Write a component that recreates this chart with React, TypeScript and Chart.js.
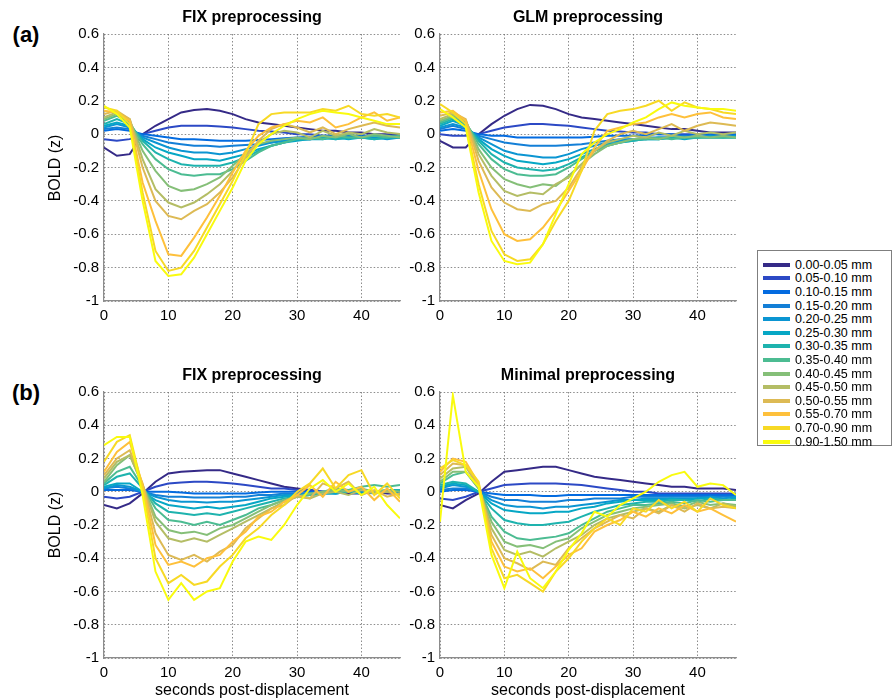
import React, { useEffect, useRef } from "react";
import { Chart, registerables } from "chart.js";
Chart.register(...registerables);

const FONT = '"Liberation Sans", Arial, Helvetica, sans-serif';

const TIME = [0, 2, 4, 6, 8, 10, 12, 14, 16, 18, 20, 22, 24, 26, 28, 30, 32, 34, 36, 38, 40, 42, 44, 46];
const X_TICKS = [0, 10, 20, 30, 40];
const Y_TICKS = [-1, -0.8, -0.6, -0.4, -0.2, 0, 0.2, 0.4, 0.6];

const BINS = [
  "0.00-0.05 mm", "0.05-0.10 mm", "0.10-0.15 mm", "0.15-0.20 mm", "0.20-0.25 mm",
  "0.25-0.30 mm", "0.30-0.35 mm", "0.35-0.40 mm", "0.40-0.45 mm", "0.45-0.50 mm",
  "0.50-0.55 mm", "0.55-0.70 mm", "0.70-0.90 mm", "0.90-1.50 mm",
];

const COLORS = [
  "#352a87", "#2c49c5", "#036be0", "#137fd7", "#0b95d2", "#06a7c5", "#1eb3ae",
  "#4cbc92", "#85bf78", "#b4bd65", "#ddba54", "#fec03b", "#f7d925", "#f9fb0e",
];

// (a) FIX preprocessing
const FIX_A = [
  [-0.08, -0.13, -0.12, 0.00, 0.05, 0.09, 0.13, 0.145, 0.15, 0.14, 0.12, 0.09, 0.07, 0.06, 0.05, 0.04, 0.03, 0.02, 0.02, 0.01, 0.01, 0.00, 0.00, 0.00],
  [-0.03, -0.04, -0.03, 0.00, 0.02, 0.04, 0.05, 0.05, 0.05, 0.045, 0.04, 0.03, 0.02, 0.015, 0.01, 0.00, 0.00, -0.01, -0.01, -0.01, -0.01, -0.01, -0.01, -0.01],
  [0.02, 0.03, 0.02, 0.00, -0.01, -0.02, -0.03, -0.03, -0.035, -0.04, -0.04, -0.04, -0.035, -0.03, -0.025, -0.02, -0.015, -0.01, -0.01, -0.01, -0.01, -0.01, -0.01, -0.01],
  [0.03, 0.04, 0.03, -0.01, -0.03, -0.05, -0.06, -0.07, -0.07, -0.075, -0.07, -0.065, -0.06, -0.05, -0.04, -0.03, -0.03, -0.02, -0.02, -0.02, -0.02, -0.02, -0.02, -0.02],
  [0.04, 0.06, 0.04, -0.02, -0.05, -0.08, -0.10, -0.11, -0.11, -0.12, -0.11, -0.09, -0.07, -0.05, -0.04, -0.03, -0.03, -0.02, -0.03, -0.02, -0.02, -0.02, -0.03, -0.02],
  [0.05, 0.07, 0.05, -0.03, -0.08, -0.11, -0.13, -0.15, -0.15, -0.16, -0.14, -0.12, -0.09, -0.07, -0.05, -0.04, -0.03, -0.03, -0.02, -0.03, -0.02, -0.03, -0.02, -0.02],
  [0.06, 0.09, 0.06, -0.04, -0.11, -0.15, -0.18, -0.19, -0.19, -0.19, -0.17, -0.14, -0.10, -0.07, -0.05, -0.03, -0.03, -0.02, -0.03, -0.02, -0.02, -0.03, -0.02, -0.02],
  [0.08, 0.11, 0.07, -0.06, -0.15, -0.21, -0.24, -0.25, -0.24, -0.24, -0.21, -0.16, -0.11, -0.07, -0.05, -0.03, -0.02, -0.03, -0.01, -0.02, -0.02, -0.01, -0.02, -0.01],
  [0.09, 0.12, 0.08, -0.10, -0.22, -0.31, -0.34, -0.33, -0.30, -0.26, -0.19, -0.12, -0.06, -0.04, -0.03, -0.02, -0.03, -0.01, -0.02, 0.00, -0.02, 0.00, -0.01, -0.02],
  [0.10, 0.13, 0.09, -0.15, -0.33, -0.41, -0.44, -0.41, -0.36, -0.30, -0.22, -0.12, -0.05, 0.00, 0.02, 0.01, -0.02, 0.02, -0.01, 0.01, 0.00, 0.03, 0.01, 0.00],
  [0.12, 0.14, 0.09, -0.20, -0.40, -0.49, -0.51, -0.46, -0.42, -0.35, -0.26, -0.14, -0.04, 0.03, 0.06, 0.04, 0.01, 0.04, 0.00, 0.03, 0.05, 0.07, 0.05, 0.04],
  [0.14, 0.13, 0.08, -0.29, -0.52, -0.72, -0.73, -0.62, -0.50, -0.37, -0.23, -0.10, -0.01, 0.04, 0.06, 0.08, 0.07, 0.10, 0.04, 0.06, 0.10, 0.13, 0.08, 0.10],
  [0.16, 0.14, 0.06, -0.35, -0.70, -0.82, -0.80, -0.70, -0.56, -0.42, -0.28, -0.12, 0.06, 0.12, 0.13, 0.13, 0.13, 0.15, 0.14, 0.17, 0.12, 0.11, 0.12, 0.10],
  [0.17, 0.12, 0.04, -0.40, -0.76, -0.85, -0.84, -0.74, -0.60, -0.46, -0.32, -0.16, -0.06, 0.00, 0.05, 0.09, 0.12, 0.14, 0.13, 0.12, 0.10, 0.08, 0.06, 0.06],
];

// (a) GLM preprocessing
const GLM_A = [
  [-0.04, -0.08, -0.08, 0.00, 0.06, 0.11, 0.15, 0.175, 0.17, 0.15, 0.12, 0.10, 0.09, 0.08, 0.07, 0.06, 0.05, 0.04, 0.03, 0.03, 0.02, 0.01, 0.01, 0.01],
  [0.00, -0.01, -0.01, 0.00, 0.02, 0.04, 0.05, 0.06, 0.06, 0.055, 0.05, 0.04, 0.03, 0.02, 0.015, 0.01, 0.01, 0.00, 0.00, 0.00, 0.00, 0.00, -0.01, -0.01],
  [0.02, 0.03, 0.02, 0.00, -0.01, -0.01, -0.02, -0.02, -0.02, -0.02, -0.02, -0.02, -0.015, -0.01, -0.01, -0.01, -0.005, 0.00, 0.00, -0.01, 0.00, 0.00, 0.00, 0.00],
  [0.03, 0.05, 0.03, -0.01, -0.03, -0.05, -0.06, -0.07, -0.07, -0.07, -0.065, -0.06, -0.05, -0.04, -0.03, -0.03, -0.02, -0.02, -0.02, -0.01, -0.02, -0.01, -0.01, -0.01],
  [0.04, 0.06, 0.04, -0.02, -0.06, -0.10, -0.12, -0.13, -0.14, -0.14, -0.12, -0.09, -0.07, -0.05, -0.04, -0.03, -0.03, -0.02, -0.02, -0.02, -0.02, -0.01, -0.02, -0.01],
  [0.05, 0.08, 0.05, -0.03, -0.09, -0.13, -0.16, -0.17, -0.18, -0.17, -0.15, -0.12, -0.09, -0.06, -0.05, -0.04, -0.03, -0.03, -0.02, -0.03, -0.02, -0.02, -0.02, -0.02],
  [0.06, 0.09, 0.06, -0.04, -0.12, -0.17, -0.20, -0.21, -0.22, -0.21, -0.18, -0.14, -0.10, -0.07, -0.05, -0.04, -0.03, -0.03, -0.02, -0.02, -0.02, -0.02, -0.02, -0.02],
  [0.07, 0.10, 0.07, -0.06, -0.15, -0.21, -0.24, -0.25, -0.25, -0.24, -0.20, -0.15, -0.10, -0.07, -0.05, -0.03, -0.03, -0.02, -0.03, -0.02, -0.02, -0.02, -0.02, -0.02],
  [0.08, 0.11, 0.08, -0.09, -0.20, -0.27, -0.30, -0.32, -0.30, -0.31, -0.25, -0.18, -0.12, -0.07, -0.05, -0.03, -0.02, -0.03, -0.01, -0.02, -0.01, -0.02, -0.01, -0.02],
  [0.09, 0.12, 0.08, -0.12, -0.25, -0.34, -0.37, -0.35, -0.36, -0.30, -0.26, -0.18, -0.10, -0.05, -0.03, -0.01, -0.02, 0.01, -0.01, 0.02, 0.00, 0.01, 0.00, 0.01],
  [0.11, 0.13, 0.09, -0.16, -0.32, -0.41, -0.45, -0.46, -0.42, -0.40, -0.32, -0.20, -0.10, -0.04, 0.00, 0.02, 0.00, 0.03, 0.06, 0.02, 0.05, 0.07, 0.06, 0.05],
  [0.13, 0.14, 0.08, -0.22, -0.45, -0.60, -0.64, -0.63, -0.56, -0.46, -0.34, -0.22, -0.08, 0.02, 0.04, 0.06, 0.07, 0.10, 0.12, 0.10, 0.12, 0.13, 0.10, 0.09],
  [0.18, 0.13, 0.06, -0.30, -0.58, -0.72, -0.76, -0.75, -0.66, -0.52, -0.40, -0.22, 0.02, 0.12, 0.14, 0.15, 0.17, 0.20, 0.14, 0.19, 0.16, 0.15, 0.13, 0.12],
  [0.15, 0.10, 0.04, -0.35, -0.64, -0.76, -0.78, -0.77, -0.66, -0.48, -0.30, -0.12, -0.05, 0.00, 0.03, 0.07, 0.10, 0.15, 0.19, 0.17, 0.16, 0.15, 0.15, 0.14],
];

// (b) FIX preprocessing
const FIX_B = [
  [-0.08, -0.10, -0.07, -0.01, 0.06, 0.11, 0.12, 0.125, 0.13, 0.13, 0.11, 0.09, 0.07, 0.05, 0.03, 0.02, 0.01, 0.00, 0.00, -0.01, -0.01, 0.00, -0.01, -0.01],
  [-0.03, -0.04, -0.03, 0.00, 0.03, 0.05, 0.055, 0.06, 0.06, 0.055, 0.05, 0.04, 0.03, 0.02, 0.02, 0.01, 0.01, 0.00, 0.00, 0.00, 0.00, 0.00, 0.00, 0.00],
  [0.01, 0.01, 0.01, 0.00, 0.00, 0.00, -0.005, -0.01, -0.01, -0.01, -0.01, -0.01, -0.005, 0.00, 0.00, 0.00, 0.00, 0.00, 0.00, 0.00, 0.00, 0.00, 0.00, 0.00],
  [0.02, 0.03, 0.02, 0.00, -0.02, -0.03, -0.03, -0.035, -0.035, -0.035, -0.03, -0.03, -0.02, -0.02, -0.01, -0.01, -0.01, 0.00, -0.01, 0.00, 0.00, -0.01, 0.00, 0.00],
  [0.02, 0.04, 0.03, 0.00, -0.03, -0.05, -0.06, -0.06, -0.065, -0.06, -0.06, -0.05, -0.04, -0.03, -0.02, -0.02, -0.01, -0.01, -0.01, 0.00, -0.01, 0.00, 0.00, 0.00],
  [0.03, 0.05, 0.05, 0.00, -0.05, -0.08, -0.09, -0.10, -0.09, -0.10, -0.09, -0.08, -0.06, -0.04, -0.03, -0.02, -0.02, -0.01, -0.01, 0.00, -0.01, 0.00, 0.00, 0.01],
  [0.04, 0.09, 0.11, 0.02, -0.07, -0.12, -0.13, -0.14, -0.13, -0.14, -0.12, -0.10, -0.08, -0.06, -0.04, -0.03, -0.02, -0.01, 0.00, 0.00, 0.01, 0.00, 0.01, 0.01],
  [0.05, 0.12, 0.15, 0.03, -0.10, -0.17, -0.18, -0.20, -0.18, -0.20, -0.17, -0.14, -0.10, -0.08, -0.05, -0.03, -0.02, 0.00, 0.02, 0.01, 0.03, 0.04, 0.03, 0.04],
  [0.06, 0.16, 0.22, 0.04, -0.15, -0.23, -0.25, -0.24, -0.26, -0.22, -0.20, -0.16, -0.12, -0.08, -0.05, -0.03, -0.01, 0.00, 0.01, 0.00, 0.02, 0.00, 0.01, 0.00],
  [0.08, 0.18, 0.22, 0.04, -0.18, -0.28, -0.30, -0.28, -0.30, -0.26, -0.22, -0.18, -0.14, -0.10, -0.06, -0.03, -0.04, -0.01, 0.00, -0.02, 0.01, -0.01, 0.00, -0.02],
  [0.10, 0.20, 0.25, 0.05, -0.25, -0.38, -0.41, -0.38, -0.42, -0.36, -0.32, -0.22, -0.16, -0.10, -0.08, -0.02, -0.04, 0.05, 0.02, 0.06, -0.02, 0.01, -0.03, -0.01],
  [0.12, 0.24, 0.30, 0.04, -0.32, -0.44, -0.42, -0.45, -0.40, -0.38, -0.30, -0.24, -0.15, -0.12, -0.06, -0.02, 0.04, -0.03, 0.06, 0.00, 0.03, -0.05, 0.02, -0.06],
  [0.18, 0.30, 0.34, 0.02, -0.40, -0.55, -0.50, -0.56, -0.54, -0.45, -0.38, -0.28, -0.22, -0.14, -0.08, 0.00, 0.05, 0.14, 0.02, 0.10, 0.13, -0.02, 0.05, -0.04],
  [0.28, 0.33, 0.33, -0.02, -0.48, -0.65, -0.55, -0.65, -0.60, -0.58, -0.42, -0.30, -0.27, -0.29, -0.20, -0.08, 0.02, 0.07, 0.00, 0.05, -0.02, 0.03, -0.08, -0.16],
];

// (b) Minimal preprocessing
const MIN_B = [
  [-0.08, -0.10, -0.05, -0.01, 0.06, 0.12, 0.13, 0.14, 0.15, 0.15, 0.13, 0.11, 0.09, 0.08, 0.07, 0.06, 0.05, 0.04, 0.03, 0.03, 0.02, 0.02, 0.02, 0.01],
  [-0.04, -0.05, -0.03, 0.00, 0.02, 0.04, 0.045, 0.05, 0.05, 0.05, 0.045, 0.04, 0.03, 0.02, 0.01, 0.00, 0.00, -0.01, -0.01, -0.01, -0.01, -0.01, -0.01, -0.01],
  [0.00, 0.01, 0.01, 0.00, -0.01, -0.02, -0.02, -0.02, -0.025, -0.025, -0.02, -0.02, -0.02, -0.02, -0.02, -0.02, -0.02, -0.02, -0.02, -0.02, -0.02, -0.02, -0.02, -0.02],
  [0.01, 0.02, 0.02, 0.00, -0.03, -0.05, -0.05, -0.06, -0.06, -0.06, -0.05, -0.05, -0.04, -0.04, -0.04, -0.03, -0.03, -0.03, -0.03, -0.03, -0.03, -0.03, -0.03, -0.03],
  [0.02, 0.04, 0.03, 0.00, -0.05, -0.08, -0.09, -0.09, -0.10, -0.09, -0.09, -0.08, -0.07, -0.06, -0.05, -0.05, -0.04, -0.04, -0.04, -0.04, -0.04, -0.03, -0.04, -0.03],
  [0.03, 0.05, 0.04, 0.00, -0.07, -0.11, -0.12, -0.13, -0.13, -0.12, -0.12, -0.10, -0.09, -0.07, -0.06, -0.05, -0.05, -0.05, -0.04, -0.05, -0.04, -0.04, -0.05, -0.04],
  [0.04, 0.06, 0.05, 0.00, -0.10, -0.17, -0.19, -0.20, -0.20, -0.19, -0.18, -0.15, -0.12, -0.10, -0.08, -0.07, -0.06, -0.06, -0.05, -0.05, -0.06, -0.04, -0.05, -0.05],
  [0.05, 0.10, 0.12, 0.02, -0.15, -0.24, -0.28, -0.29, -0.28, -0.27, -0.25, -0.20, -0.16, -0.12, -0.10, -0.08, -0.08, -0.07, -0.06, -0.07, -0.05, -0.06, -0.05, -0.05],
  [0.06, 0.12, 0.12, 0.02, -0.18, -0.30, -0.33, -0.32, -0.34, -0.30, -0.28, -0.22, -0.18, -0.14, -0.12, -0.10, -0.09, -0.08, -0.07, -0.09, -0.06, -0.08, -0.07, -0.08],
  [0.08, 0.14, 0.15, 0.03, -0.22, -0.35, -0.38, -0.36, -0.39, -0.34, -0.30, -0.26, -0.20, -0.16, -0.14, -0.12, -0.10, -0.12, -0.08, -0.10, -0.08, -0.10, -0.07, -0.09],
  [0.10, 0.17, 0.16, 0.04, -0.26, -0.40, -0.43, -0.47, -0.42, -0.44, -0.34, -0.28, -0.22, -0.18, -0.14, -0.16, -0.10, -0.13, -0.08, -0.12, -0.07, -0.10, -0.09, -0.10],
  [0.12, 0.20, 0.18, 0.05, -0.30, -0.45, -0.48, -0.46, -0.52, -0.45, -0.38, -0.34, -0.24, -0.20, -0.17, -0.12, -0.15, -0.10, -0.13, -0.08, -0.12, -0.10, -0.14, -0.18],
  [0.14, 0.19, 0.16, 0.06, -0.34, -0.52, -0.50, -0.55, -0.60, -0.48, -0.40, -0.30, -0.22, -0.16, -0.20, -0.10, -0.12, -0.05, -0.10, -0.06, -0.12, -0.04, -0.08, -0.10],
  [-0.18, 0.58, 0.12, 0.03, -0.38, -0.58, -0.36, -0.52, -0.58, -0.48, -0.35, -0.25, -0.12, -0.15, -0.08, -0.04, 0.00, 0.06, 0.10, 0.12, 0.03, 0.05, 0.04, -0.02],
];

type Rect = { left: number; top: number; right: number; bottom: number };

const PAD_L = 48;
const PAD_T = 14;
const PAD_R = 10;
const X_H = 26;
const PAD_B = 4;

function Panel({ series, rect }: { series: number[][]; rect: Rect }) {
  const ref = useRef<HTMLCanvasElement | null>(null);
  const w = rect.right - rect.left + PAD_L + PAD_R;
  const h = rect.bottom - rect.top + PAD_T + X_H + PAD_B;
  useEffect(() => {
    const n = series.length;
    const chart = new Chart(ref.current as HTMLCanvasElement, {
      type: "line",
      data: {
        datasets: series.map((vals, i) => ({
          label: BINS[i],
          data: TIME.map((t, j) => ({ x: t, y: vals[j] })),
          borderColor: COLORS[i],
          backgroundColor: COLORS[i],
          borderWidth: 2,
          pointRadius: 0,
          tension: 0,
          fill: false,
          order: n - 1 - i,
        })),
      },
      options: {
        responsive: false,
        animation: false,
        events: [],
        layout: { padding: { left: 0, top: PAD_T, right: PAD_R, bottom: PAD_B }, autoPadding: false },
        plugins: { legend: { display: false }, tooltip: { enabled: false }, title: { display: false } },
        scales: {
          x: {
            type: "linear",
            min: 0,
            max: 46,
            afterBuildTicks: (s: any) => {
              s.ticks = X_TICKS.map((v) => ({ value: v }));
            },
            afterFit: (s: any) => {
              s.height = X_H;
            },
            grid: { color: "#6e6e6e", lineWidth: 0.8, drawTicks: false },
            border: { display: true, color: "#8c8c8c", width: 1.2, dash: [1.5, 2] },
            ticks: {
              color: "#000",
              font: { family: FONT, size: 15 },
              padding: 6,
              maxRotation: 0,
              autoSkip: false,
              callback: (v: any) => String(v),
            },
          },
          y: {
            type: "linear",
            min: -1,
            max: 0.6,
            afterBuildTicks: (s: any) => {
              s.ticks = Y_TICKS.map((v) => ({ value: v }));
            },
            afterFit: (s: any) => {
              s.width = PAD_L;
            },
            grid: { color: "#6e6e6e", lineWidth: 0.8, drawTicks: false },
            border: { display: true, color: "#8c8c8c", width: 1.2, dash: [1.5, 2] },
            ticks: {
              color: "#000",
              font: { family: FONT, size: 15 },
              padding: 5,
              autoSkip: false,
              callback: (v: any) => String(Math.round(Number(v) * 10) / 10),
            },
          },
        },
      },
    } as any);
    return () => chart.destroy();
  }, [series]);
  return (
    <canvas
      ref={ref}
      width={w}
      height={h}
      style={{ position: "absolute", left: rect.left - PAD_L, top: rect.top - PAD_T, width: w, height: h }}
    />
  );
}

const RECT_A1: Rect = { left: 104, top: 34, right: 400, bottom: 301 };
const RECT_A2: Rect = { left: 440, top: 34, right: 736, bottom: 301 };
const RECT_B1: Rect = { left: 104, top: 392, right: 400, bottom: 658 };
const RECT_B2: Rect = { left: 440, top: 392, right: 736, bottom: 658 };

const centered = (x: number, y: number, extra: React.CSSProperties = {}): React.CSSProperties => ({
  position: "absolute",
  left: x,
  top: y,
  transform: "translate(-50%, -50%)",
  whiteSpace: "nowrap",
  lineHeight: 1,
  fontFamily: FONT,
  color: "#000",
  ...extra,
});

function Title({ rect, text }: { rect: Rect; text: string }) {
  return <div style={centered((rect.left + rect.right) / 2, rect.top - 17, { fontSize: 16, fontWeight: "bold" })}>{text}</div>;
}

function YLabel({ rect }: { rect: Rect }) {
  return (
    <div style={centered(55, (rect.top + rect.bottom) / 2, { fontSize: 16, transform: "translate(-50%, -50%) rotate(-90deg)" })}>
      BOLD (z)
    </div>
  );
}

function XLabel({ rect }: { rect: Rect }) {
  return <div style={centered((rect.left + rect.right) / 2, 690, { fontSize: 16 })}>seconds post-displacement</div>;
}

function Legend() {
  const top = 250;
  const rowH = 13.6;
  return (
    <div
      style={{
        position: "absolute",
        left: 757,
        top,
        width: 135,
        height: 196,
        border: "1px solid #7f7f7f",
        background: "#fff",
        boxSizing: "border-box",
      }}
    >
      {BINS.map((b, i) => (
        <div key={b} style={{ position: "absolute", left: 0, top: 7 + i * rowH, height: rowH, width: "100%" }}>
          <div style={{ position: "absolute", left: 5, top: rowH / 2 - 2, width: 27, height: 4, background: COLORS[i] }} />
          <div
            style={{
              position: "absolute",
              left: 37,
              top: rowH / 2,
              transform: "translateY(-50%)",
              fontFamily: FONT,
              fontSize: 12.5,
              lineHeight: 1,
              whiteSpace: "nowrap",
              color: "#000",
            }}
          >
            {b}
          </div>
        </div>
      ))}
    </div>
  );
}

export default function App() {
  return (
    <div style={{ position: "fixed", left: 0, top: 0, width: 895, height: 700, background: "#fff", overflow: "hidden" }}>
      <Panel series={FIX_A} rect={RECT_A1} />
      <Panel series={GLM_A} rect={RECT_A2} />
      <Panel series={FIX_B} rect={RECT_B1} />
      <Panel series={MIN_B} rect={RECT_B2} />
      <Title rect={RECT_A1} text="FIX preprocessing" />
      <Title rect={RECT_A2} text="GLM preprocessing" />
      <Title rect={RECT_B1} text="FIX preprocessing" />
      <Title rect={RECT_B2} text="Minimal preprocessing" />
      <YLabel rect={RECT_A1} />
      <YLabel rect={RECT_B1} />
      <XLabel rect={RECT_B1} />
      <XLabel rect={RECT_B2} />
      <div style={centered(26, 35, { fontSize: 22, fontWeight: "bold" })}>(a)</div>
      <div style={centered(26, 393, { fontSize: 22, fontWeight: "bold" })}>(b)</div>
      <Legend />
    </div>
  );
}
